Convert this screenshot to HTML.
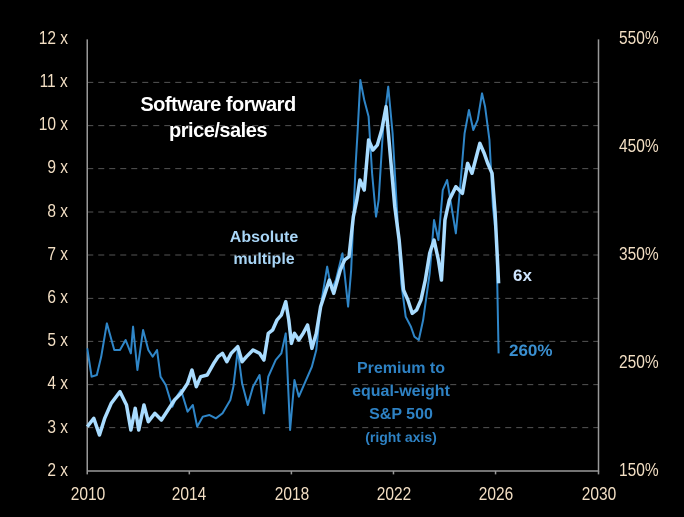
<!DOCTYPE html>
<html><head><style>
body{margin:0;background:#000;width:684px;height:517px;overflow:hidden;position:relative;font-family:"Liberation Sans",sans-serif}
.t{position:absolute;white-space:nowrap}
.ax{color:#f3dfc4;font-size:18px;transform:scaleX(0.86)}
.yl{right:616px;text-align:right;transform-origin:right center}
.yr{left:619px;transform-origin:left center}
.xl{transform-origin:center}
</style></head><body>
<svg style="position:absolute;left:0;top:0" width="684" height="517" viewBox="0 0 1568 1551" preserveAspectRatio="none">
<g stroke="#555" stroke-width="1" stroke-dasharray="6,5">
<line x1="200" x2="1372" y1="247" y2="247" vector-effect="non-scaling-stroke"/>
<line x1="200" x2="1372" y1="377" y2="377" vector-effect="non-scaling-stroke"/>
<line x1="200" x2="1372" y1="506" y2="506" vector-effect="non-scaling-stroke"/>
<line x1="200" x2="1372" y1="636" y2="636" vector-effect="non-scaling-stroke"/>
<line x1="200" x2="1372" y1="765" y2="765" vector-effect="non-scaling-stroke"/>
<line x1="200" x2="1372" y1="895" y2="895" vector-effect="non-scaling-stroke"/>
<line x1="200" x2="1372" y1="1024" y2="1024" vector-effect="non-scaling-stroke"/>
<line x1="200" x2="1372" y1="1154" y2="1154" vector-effect="non-scaling-stroke"/>
<line x1="200" x2="1372" y1="1283" y2="1283" vector-effect="non-scaling-stroke"/>
</g>
<g stroke="#999" fill="none">
<path d="M200 118V1413H1372V118" stroke-width="1.5" vector-effect="non-scaling-stroke"/>
<path d="M200 1413v10M434 1413v10M668 1413v10M902 1413v10M1136 1413v10M1372 1413v10" stroke-width="1.5" vector-effect="non-scaling-stroke"/>
</g>
<path fill="none" stroke="#2f86c8" stroke-width="2" vector-effect="non-scaling-stroke" stroke-linejoin="round" d="M200 1045L210 1130L222 1125L232 1070L245 970L262 1050L275 1050L288 1020L300 1060L305 980L315 1110L328 990L340 1050L350 1070L360 1050L368 1130L380 1155L395 1220L405 1190L415 1170L430 1235L442 1215L452 1280L465 1250L480 1245L495 1255L510 1240L528 1200L535 1160L545 1050L555 1150L568 1215L580 1160L595 1125L605 1240L615 1130L632 1080L645 1060L655 1000L665 1290L675 1140L685 1190L695 1160L705 1130L715 1100L725 1050L735 920L750 800L760 870L770 840L785 760L798 920L805 810L815 500L820 390L826 240L835 300L845 350L853 520L862 650L868 600L878 390L890 260L900 400L910 630L920 850L930 950L942 980L950 1010L960 1020L970 960L985 820L995 660L1005 720L1015 570L1025 540L1035 620L1045 700L1055 560L1065 400L1075 330L1085 390L1095 360L1105 280L1112 320L1122 420L1130 620L1138 720L1143 1060"/>
<path fill="none" stroke="#a9dcff" stroke-width="3.5" vector-effect="non-scaling-stroke" stroke-linejoin="round" d="M200 1280L215 1255L228 1305L240 1255L255 1210L275 1175L290 1215L300 1290L310 1225L318 1290L330 1215L340 1265L355 1240L370 1260L385 1230L400 1200L415 1180L430 1150L440 1110L450 1160L460 1130L475 1125L490 1090L500 1070L510 1060L520 1085L530 1060L545 1040L555 1085L565 1070L580 1050L595 1060L605 1080L615 1000L625 990L635 960L645 945L655 905L662 960L668 1030L675 1000L685 1020L695 1000L705 975L715 1045L725 1000L735 920L745 880L755 840L765 880L780 810L790 780L800 770L810 650L818 600L825 540L835 570L845 420L855 450L865 435L875 390L885 320L895 470L905 620L915 720L925 870L935 900L945 940L955 930L965 900L975 840L985 760L995 720L1005 780L1012 840L1020 660L1030 600L1045 560L1060 580L1072 490L1082 520L1090 480L1100 430L1110 460L1118 490L1128 520L1135 640L1143 850"/>
</svg>
<div class="t ax yl" style="top:28px">12 x</div>
<div class="t ax yl" style="top:71px">11 x</div>
<div class="t ax yl" style="top:114px">10 x</div>
<div class="t ax yl" style="top:157px">9 x</div>
<div class="t ax yl" style="top:201px">8 x</div>
<div class="t ax yl" style="top:244px">7 x</div>
<div class="t ax yl" style="top:287px">6 x</div>
<div class="t ax yl" style="top:330px">5 x</div>
<div class="t ax yl" style="top:373px">4 x</div>
<div class="t ax yl" style="top:417px">3 x</div>
<div class="t ax yl" style="top:460px">2 x</div>
<div class="t ax yr" style="top:28px">550%</div>
<div class="t ax yr" style="top:136px">450%</div>
<div class="t ax yr" style="top:244px">350%</div>
<div class="t ax yr" style="top:352px">250%</div>
<div class="t ax yr" style="top:460px">150%</div>
<div class="t ax xl" style="top:484px;left:66px;width:44px;text-align:center">2010</div>
<div class="t ax xl" style="top:484px;left:167px;width:44px;text-align:center">2014</div>
<div class="t ax xl" style="top:484px;left:270px;width:44px;text-align:center">2018</div>
<div class="t ax xl" style="top:484px;left:372px;width:44px;text-align:center">2022</div>
<div class="t ax xl" style="top:484px;left:474px;width:44px;text-align:center">2026</div>
<div class="t ax xl" style="top:484px;left:577px;width:44px;text-align:center">2030</div>
<div class="t" style="left:98px;top:92px;width:240px;text-align:center;color:#fff;font-weight:bold;font-size:20px;line-height:26px;letter-spacing:-0.5px">Software forward<br>price/sales</div>
<div class="t" style="left:204px;top:227px;width:120px;text-align:center;color:#a9d6f7;font-weight:bold;font-size:16px;line-height:22px">Absolute<br>multiple</div>
<div class="t" style="left:513px;top:266px;color:#cfe6ff;font-weight:bold;font-size:17px">6x</div>
<div class="t" style="left:509px;top:341px;color:#3a8fd0;font-weight:bold;font-size:17px">260%</div>
<div class="t" style="left:321px;top:357px;width:160px;text-align:center;color:#2e82c4;font-weight:bold;font-size:16px;line-height:23px">Premium to<br>equal-weight<br>S&amp;P 500<br><span style="font-size:14px">(right axis)</span></div>
</body></html>
